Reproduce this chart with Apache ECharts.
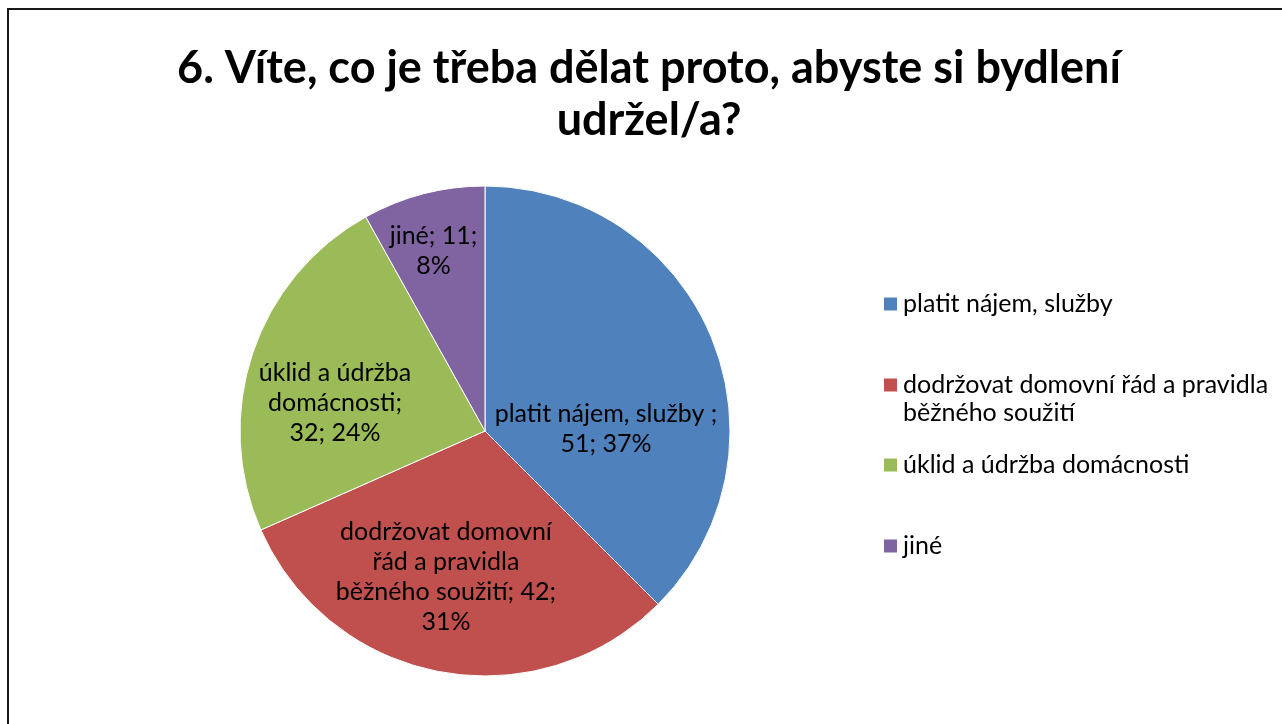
<!DOCTYPE html>
<html>
<head>
<meta charset="utf-8">
<script src="https://cdn.jsdelivr.net/npm/echarts@6/dist/echarts.min.js"></script>
<style>
html,body{margin:0;padding:0;background:#fff;}
#main{width:1282px;height:724px;}
</style>
</head>
<body>
<div id="main"></div>
<script>
const titleText = '6. Víte, co je třeba dělat proto, abyste si bydlení\nudržel/a?';
const categories = ['platit nájem, služby', 'dodržovat domovní řád a pravidla běžného soužití', 'úklid a údržba domácnosti', 'jiné'];
const labelNames = ['platit nájem, služby ;', 'dodržovat domovní\nřád a pravidla\nběžného soužití;', 'úklid a údržba\ndomácnosti;\n', 'jiné; 11;\n'];
const legendNames = ['platit nájem, služby', '\ndodržovat domovní řád a pravidla\nběžného soužití', 'úklid a údržba domácnosti', 'jiné'];
const values = [51, 42, 32, 11];
const colors = ['#4F81BD', '#C0504D', '#9BBB59', '#8064A2'];

// label placement tweaks (style only)
const labelOffsets = [[5, 46], [-16, 23], [-31, 12], [-20, -59]];
const legendTops = [290, 343, 451, 532];

const FONT = 'Lato, "Open Sans", sans-serif';

const chart = echarts.init(document.getElementById('main'), null, {renderer: 'canvas'});

const seriesData = categories.map((c, i) => ({
  name: c,
  value: values[i],
  itemStyle: {color: colors[i]},
  label: {offset: labelOffsets[i]}
}));

function labelFormatter(p) {
  const nm = labelNames[p.dataIndex];
  if (p.dataIndex === 0) return nm + '\n' + p.value + '; ' + p.percent + '%';
  if (p.dataIndex === 1) return nm + ' ' + p.value + ';\n' + p.percent + '%';
  if (p.dataIndex === 2) return nm + p.value + '; ' + p.percent + '%';
  return nm + p.percent + '%';
}

const legends = categories.map((c, i) => ({
  data: [c],
  left: 882,
  top: legendTops[i],
  padding: 0,
  orient: 'vertical',
  icon: 'rect',
  itemWidth: 15,
  itemHeight: 15,
  selectedMode: false,
  formatter: () => legendNames[i],
  textStyle: {fontFamily: FONT, fontSize: 25, color: '#000', lineHeight: 28}
}));

chart.setOption({
  animation: false,
  backgroundColor: '#fff',
  title: {
    text: titleText,
    left: 649,
    top: 42,
    textAlign: 'center',
    padding: 0,
    textStyle: {fontFamily: FONT, fontSize: 45, fontWeight: 'bold', color: '#000', lineHeight: 52}
  },
  legend: legends,
  graphic: [{
    type: 'rect',
    shape: {x: 8, y: 9, width: 1300, height: 740},
    style: {fill: 'none', stroke: '#1a1a1a', lineWidth: 2},
    silent: true
  }],
  series: [{
    type: 'pie',
    center: [485, 431],
    radius: 245,
    startAngle: 90,
    clockwise: true,
    percentPrecision: 0,
    data: seriesData,
    itemStyle: {borderColor: '#fff', borderWidth: 1},
    label: {
      show: true,
      position: 'inside',
      formatter: labelFormatter,
      fontFamily: FONT,
      fontSize: 25,
      lineHeight: 30,
      color: '#000',
      align: 'center'
    },
    labelLine: {show: false},
    emphasis: {disabled: true}
  }]
});
</script>
</body>
</html>
